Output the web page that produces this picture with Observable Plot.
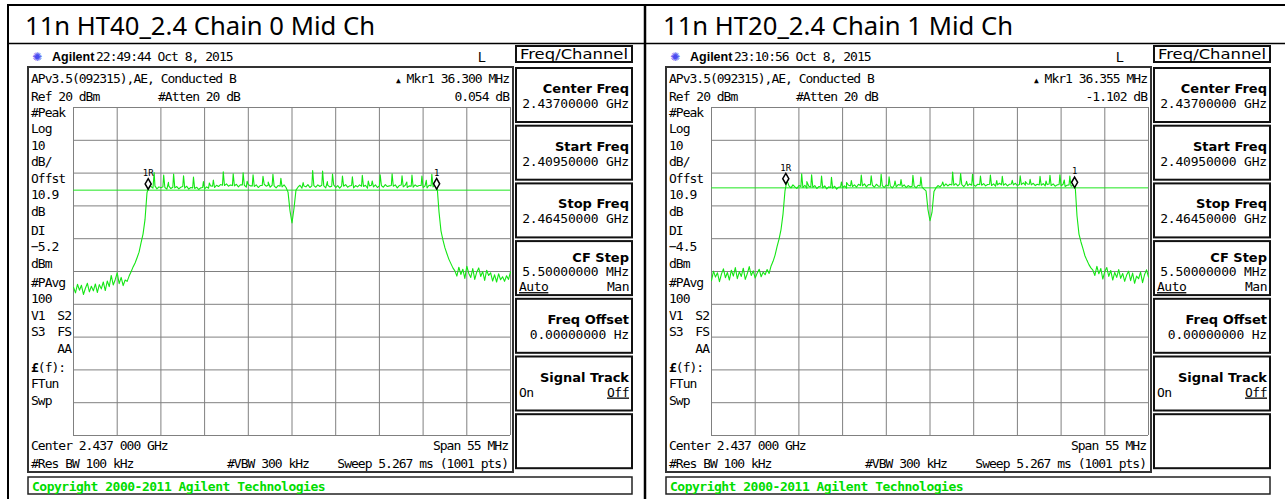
<!DOCTYPE html>
<html><head><meta charset="utf-8">
<script src="https://cdn.jsdelivr.net/npm/d3@7"></script>
<script src="https://cdn.jsdelivr.net/npm/@observablehq/plot@0.6"></script>
<style>
html,body{margin:0;padding:0;background:#fff;}
#root{position:relative;width:1285px;height:499px;overflow:hidden;background:#fff;}
#root svg.chrome{position:absolute;left:0;top:0;}
.plotbox{position:absolute;}
</style></head><body><div id="root"></div>
<script>
// ---------------- data ----------------
const panelTitles = ["11n HT40_2.4 Chain 0 Mid Ch", "11n HT20_2.4 Chain 1 Mid Ch"];
const timestamps = ["22:49:44  Oct 8, 2015", "23:10:56  Oct 8, 2015"];
const infoLine = "APv3.5(092315),AE, Conducted B";
const markerDeltaFreq = ["36.300 MHz", "36.355 MHz"];
const markerDeltaAmp = ["0.054 dB", "-1.102 dB"];
const displayLines = [-5.2, -4.5];
const startFreq = 2409.5, stopFreq = 2464.5; // MHz
const refLevel = 20, dbPerDiv = 10;
const freqDivs = [2409.5, 2415, 2420.5, 2426, 2431.5, 2437, 2442.5, 2448, 2453.5, 2459, 2464.5];
const levelDivs = [20, 10, 0, -10, -20, -30, -40, -50, -60, -70, -80];
const markerLabels = ["1R", "1"];
const markerFreqs = [[2418.9, 2455.2], [2418.85, 2455.2]];
const markerLevels = [[-3.3, -3.25], [-1.7, -2.8]];
const sideLabels = ["#Peak","Log","10","dB/","Offst","10.9","dB","DI","DL","dBm","#PAvg","100","V1","S3","£(f):","FTun","Swp"];
const sideLabelsRight = ["S2","FS","AA"];
const bottomRow1 = ["Center 2.437 000 GHz", "Span 55 MHz"];
const bottomRow2 = ["#Res BW 100 kHz", "#VBW 300 kHz", "Sweep 5.267 ms (1001 pts)"];
const softkeyMenu = "Freq/Channel";
const softkeyLabels = ["Center Freq", "Start Freq", "Stop Freq", "CF Step", "Freq Offset", "Signal Track", ""];
const softkeyValues = ["2.43700000 GHz", "2.40950000 GHz", "2.46450000 GHz", "5.50000000 MHz", "0.00000000  Hz", "", ""];
const copyright = "Copyright 2000-2011 Agilent Technologies";

const traceChain0 = [
 -34.8,-36.5,-33.9,-35.7,-34.2,-37.0,-35.1,-33.6,-36.2,-34.5,
 -35.9,-33.8,-36.4,-34.0,-35.3,-33.2,-35.8,-32.9,-34.6,-31.2,
 -34.1,-32.5,-30.4,-33.7,-31.8,-34.3,-32.6,-33.0,-31.4,-30.1,
 -28.6,-27.4,-25.8,-24.1,-21.3,-18.6,-14.2,-6.0,-3.6,-4.1,
 -4.6,-3.9,-4.8,-4.2,-4.5,-4.2,-4.4,-4.9,-4.0,-4.7,
 -4.3,-4.5,-4.1,-4.8,-4.3,-4.1,-4.6,-4.0,-4.9,-4.4,
 -4.5,-4.7,-4.3,-5.0,-4.5,-4.4,-4.8,-4.2,-4.6,-3.9,
 -4.0,-4.4,-3.7,-4.1,-3.5,-3.7,-3.8,-3.3,-4.0,-3.6,
 -3.8,-3.9,-3.4,-4.2,-3.6,-3.6,-3.7,-4.3,-3.5,-3.9,
 -3.9,-4.1,-3.6,-4.4,-3.8,-3.8,-3.4,-4.0,-3.7,-4.3,
 -3.7,-3.9,-4.5,-3.8,-4.0,-4.2,-3.6,-4.4,-5.8,-11.5,
 -15.2,-10.8,-5.2,-4.3,-3.7,-4.6,-3.9,-4.2,-3.5,-4.4,
 -3.9,-3.8,-4.3,-3.6,-4.1,-3.7,-3.9,-4.5,-3.7,-4.2,
 -4.0,-3.6,-4.4,-3.8,-4.6,-3.9,-4.0,-3.5,-4.3,-3.9,
 -3.8,-4.5,-3.8,-4.2,-3.6,-4.0,-4.1,-3.7,-4.6,-3.9,
 -3.7,-4.2,-3.6,-4.4,-3.9,-3.8,-4.3,-3.5,-4.1,-3.9,
 -3.8,-4.0,-3.6,-4.5,-3.8,-3.6,-4.2,-3.7,-4.4,-3.9,
 -4.0,-4.3,-3.6,-4.1,-3.8,-3.8,-4.4,-3.9,-4.5,-3.7,
 -3.9,-4.2,-3.5,-3.6,-11.8,-17.6,-20.4,-22.8,-24.6,-26.3,
 -27.6,-28.9,-29.8,-31.4,-28.7,-30.9,-29.3,-32.1,-28.4,-30.6,
 -31.8,-29.1,-32.4,-30.2,-28.9,-31.5,-30.0,-32.7,-29.6,-31.2,
 -30.4,-32.9,-31.0,-33.2,-30.7,-32.5,-31.6,-33.0,-31.3,-32.4,
 -30.1
];
// narrow spurs on the plateau: [MHz, dBm]
const spursChain0 = [
 [2419.65,0.2],[2420.85,-0.6],[2421.45,-2.8],[2422.1,-0.3],[2423.35,-0.8],[2424.6,-1.2],
 [2425.85,-2.6],[2426.6,-3.0],[2427.1,-2.1],[2428.35,0.4],[2429.6,-0.2],[2430.85,0.1],
 [2431.35,-2.5],[2432.1,-0.5],[2433.35,-1.0],[2434.0,-2.7],[2434.6,-0.4],[2435.6,-1.6],
 [2438.4,-2.9],[2439.6,0.8],[2440.85,0.6],[2441.45,-2.6],[2442.1,-0.3],[2443.35,-0.9],
 [2444.6,-1.1],[2445.85,-0.7],[2446.6,-2.4],[2447.1,-2.4],[2448.1,-0.5],[2449.6,-0.2],
 [2450.85,-0.8],[2451.45,-2.7],[2452.1,-0.6],[2453.35,-0.9],[2453.9,-2.2],[2454.6,-0.4]
];
const traceChain1 = [
 -32.8,-29.9,-31.7,-30.4,-33.1,-30.8,-29.2,-31.9,-30.3,-32.6,
 -29.6,-31.4,-28.8,-32.2,-30.1,-31.5,-29.0,-32.4,-30.7,-28.5,
 -31.2,-29.8,-32.0,-30.5,-29.3,-31.6,-30.2,-31.0,-29.4,-30.6,
 -28.3,-26.9,-25.0,-22.4,-20.1,-17.2,-12.5,-5.4,-2.2,-3.9,
 -4.5,-3.6,-4.2,-4.7,-3.8,-4.1,-4.4,-3.7,-4.6,-4.0,
 -4.2,-4.3,-3.8,-4.7,-4.1,-4.0,-4.5,-3.9,-4.8,-4.2,
 -4.4,-4.6,-4.0,-4.9,-4.3,-4.2,-4.4,-3.9,-4.6,-3.7,
 -3.9,-4.1,-3.6,-4.3,-3.4,-3.8,-3.9,-3.3,-4.2,-3.5,
 -3.6,-3.7,-4.3,-3.4,-4.0,-4.0,-3.8,-4.4,-3.6,-3.9,
 -3.9,-4.5,-3.7,-4.2,-3.5,-3.7,-4.1,-3.6,-4.4,-3.8,
 -4.2,-4.0,-3.9,-4.5,-3.7,-3.9,-4.3,-4.9,-5.4,-11.2,
 -14.5,-12.0,-5.6,-4.5,-3.8,-4.2,-3.5,-4.0,-3.3,-3.9,
 -3.4,-3.6,-3.7,-3.2,-3.9,-3.3,-3.5,-4.1,-3.4,-3.8,
 -3.3,-3.7,-3.6,-4.0,-3.4,-3.5,-3.7,-3.2,-3.9,-3.5,
 -3.4,-3.8,-3.3,-4.0,-3.6,-3.1,-3.6,-3.7,-3.2,-3.9,
 -3.4,-3.3,-3.6,-3.1,-3.8,-3.5,-3.5,-3.0,-3.7,-3.3,
 -3.4,-3.6,-3.1,-3.8,-3.4,-3.6,-3.7,-3.2,-3.9,-3.5,
 -3.3,-3.8,-3.3,-4.0,-3.6,-3.5,-3.9,-3.4,-4.1,-3.7,
 -3.6,-4.0,-3.8,-3.0,-13.0,-18.6,-21.0,-23.0,-25.2,-26.6,
 -27.9,-28.9,-29.6,-31.2,-28.4,-30.7,-29.1,-32.3,-30.0,-28.8,
 -31.5,-29.7,-32.6,-30.3,-31.8,-29.4,-32.1,-30.6,-33.0,-31.1,
 -29.9,-32.8,-30.5,-33.6,-31.4,-32.2,-30.2,-33.4,-31.0,-29.5,
 -31.7
];
const spursChain1 = [
 [2420.85,-0.2],[2421.5,-2.6],[2422.1,-0.5],[2423.35,-0.9],[2424.6,-1.3],[2425.85,-2.7],
 [2426.5,-2.9],[2427.1,-2.3],[2428.35,-0.6],[2429.6,-0.8],[2430.85,-0.4],[2431.85,-1.1],
 [2432.6,-2.4],[2433.35,-2.0],[2434.85,-0.7],[2435.85,-1.2],[2438.6,-2.7],[2439.85,0.3],
 [2440.85,-0.1],[2441.6,-2.5],[2442.35,-0.4],[2443.35,-0.9],[2444.6,-0.6],[2445.4,-2.3],
 [2446.1,-1.0],[2447.35,-2.2],[2448.35,-0.8],[2449.0,-2.6],[2449.6,-1.9],[2450.85,-1.0],
 [2451.6,-2.4],[2452.1,-0.7],[2453.35,-0.5],[2453.9,-2.1],[2454.6,-0.9]
];
const traces = [traceChain0, traceChain1];
const spurs = [spursChain0, spursChain1];

// ---------------- drawing ----------------
const W = 1285, H = 499;
const MONO = "'DejaVu Sans Mono', 'Liberation Mono', monospace";
const SANS = "'DejaVu Sans', 'Liberation Sans', sans-serif";
const root = d3.select("#root");
const svg = root.append("svg").attr("class", "chrome").attr("width", W).attr("height", H);

function txt(g, x, y, s, o = {}) {
  const t = g.append("text").attr("x", x).attr("y", y).text(s)
    .attr("font-family", o.family || MONO).attr("font-size", o.size || 13)
    .attr("fill", o.fill || "#000");
  if (o.anchor) t.attr("text-anchor", o.anchor);
  if (o.weight) t.attr("font-weight", o.weight);
  if (o.ls != null) t.attr("letter-spacing", o.ls);
  if (o.len) t.attr("textLength", o.len).attr("lengthAdjust", "spacingAndGlyphs");
  if (o.underline) t.attr("text-decoration", "underline");
  return t;
}
function line(g, x1, y1, x2, y2, w, c = "#000") {
  g.append("line").attr("x1", x1).attr("y1", y1).attr("x2", x2).attr("y2", y2)
    .attr("stroke", c).attr("stroke-width", w);
}
function box(g, x, y, w, h, sw, c) {
  g.append("rect").attr("x", x).attr("y", y).attr("width", w).attr("height", h)
    .attr("fill", "none").attr("stroke", c).attr("stroke-width", sw);
}

// table frame
line(svg, 7, 5, W, 5, 2);
line(svg, 8, 4, 8, H, 2);
line(svg, 645, 4, 645, H, 2.5);
line(svg, 8, 43.5, W, 43.5, 1.5);

const F = {family: MONO, size: 13, ls: -1};
const sideY = [112,128.5,145,161.5,178,194.5,211,230,246.5,263,282,298.5,315,331.5,367,383.5,400];
const sideRightY = [315,331.5,348];

function panel(k, dx) {
  const g = svg.append("g").attr("transform", `translate(${dx},0)`);
  txt(g, 25, 35, panelTitles[k], {family: "'Noto Sans','Open Sans',sans-serif", size: 25, len: 350});

  // status row
  txt(g, 37, 61, "✺", {family: SANS, size: 12, fill: "#4a4af0", anchor: "middle"});
  txt(g, 52, 61, "Agilent", {family: "'Liberation Sans',Arial,sans-serif", size: 12.5, weight: "bold"});
  txt(g, 96, 61, timestamps[k], F);
  txt(g, 478, 62, "L", {family: "'Liberation Sans',Arial,sans-serif", size: 14});

  // main screen frame
  box(g, 28, 67, 485, 405, 2, "#333");
  txt(g, 31, 83, infoLine, F);
  const mt = txt(g, 509, 83, "", {...F, anchor: "end"});
  mt.append("tspan").attr("font-size", 8).text("▲");
  mt.append("tspan").text(" Mkr1  " + markerDeltaFreq[k]);
  txt(g, 31, 101, "Ref 20 dBm", F);
  txt(g, 158, 101, "#Atten 20 dB", F);
  txt(g, 509, 101, markerDeltaAmp[k], {...F, anchor: "end"});

  sideLabels.forEach((s, i) => {
    const label = s === "DL" ? String(displayLines[k]).replace("-", "−") : s;
    if (label.startsWith("£")) {
      const t = txt(g, 31, sideY[i] + 4.7, "", F);
      t.append("tspan").attr("font-weight", "bold").text("£");
      t.append("tspan").text(label.slice(1));
    } else {
      txt(g, 31, sideY[i] + 4.7, label, F);
    }
  });
  sideLabelsRight.forEach((s, i) => txt(g, 71, sideRightY[i] + 4.7, s, {...F, anchor: "end"}));

  txt(g, 31, 450, bottomRow1[0], F);
  txt(g, 508, 450, bottomRow1[1], {...F, anchor: "end"});
  txt(g, 31, 468, bottomRow2[0], F);
  txt(g, 227, 468, bottomRow2[1], F);
  txt(g, 508, 468, bottomRow2[2], {...F, anchor: "end"});

  // copyright bar
  box(g, 28, 477, 604, 17, 1.5, "#222");
  txt(g, 32, 491, copyright, {family: MONO, size: 13, weight: "bold", ls: -0.5, fill: "#00dc00"});

  // softkeys
  box(g, 516, 46, 116, 16, 2, "#111");
  txt(g, 574, 59, softkeyMenu, {family: SANS, size: 13.5, anchor: "middle", len: 108});
  softkeyLabels.forEach((lab, j) => {
    const top = 68 + 57.7 * j;
    box(g, 516, top, 116, 54, 2, "#111");
    if (!lab) return;
    const three = lab === "CF Step";
    txt(g, 629, top + (three ? 21 : 25), lab, {family: SANS, size: 13, weight: "bold", anchor: "end"});
    if (softkeyValues[j]) txt(g, 629, top + (three ? 35 : 40), softkeyValues[j], {family: MONO, size: 13, ls: -0.2, anchor: "end"});
    if (three) {
      txt(g, 519, top + 50, "Auto", {family: MONO, size: 13, ls: -0.5, underline: true});
      txt(g, 629, top + 50, "Man", {family: MONO, size: 13, ls: -0.5, anchor: "end"});
    }
    if (lab === "Signal Track") {
      txt(g, 519, top + 40, "On", {family: MONO, size: 13, ls: -0.5});
      txt(g, 629, top + 40, "Off", {family: MONO, size: 13, ls: -0.5, anchor: "end", underline: true});
    }
  });

  // the chart itself
  const vals = traces[k];
  const step = (stopFreq - startFreq) / (vals.length - 1);
  const data = vals.map((v, i) => ({f: startFreq + i * step, v}))
    .concat(spurs[k].map(([f, v]) => ({f, v})))
    .sort((a, b) => a.f - b.f);
  const mk = markerLabels.map((label, i) => ({label, f: markerFreqs[k][i], v: markerLevels[k][i]}));
  const chart = Plot.plot({
    width: 439, height: 330, marginTop: 1, marginRight: 1, marginBottom: 1, marginLeft: 1,
    x: {domain: [startFreq, stopFreq], axis: null},
    y: {domain: [refLevel - 10 * dbPerDiv, refLevel], axis: null},
    style: {background: "transparent", overflow: "visible"},
    marks: [
      Plot.ruleX(freqDivs, {stroke: "#808080", strokeWidth: 1}),
      Plot.ruleY(levelDivs, {stroke: "#808080", strokeWidth: 1}),
      Plot.ruleY([displayLines[k]], {stroke: "#1ee61e", strokeWidth: 1}),
      Plot.line(data, {x: "f", y: "v", stroke: "#14e614", strokeWidth: 1.1}),
      Plot.dot(mk, {x: "f", y: "v", symbol: "diamond", r: 3.2, stroke: "#000", strokeWidth: 1.5, fill: "#fff"}),
      Plot.text(mk, {x: "f", y: "v", text: "label", dy: -11, fontSize: 9, fontFamily: MONO, fill: "#000"})
    ]
  });
  root.append("div").attr("class", "plotbox")
    .style("left", (72 + dx) + "px").style("top", "106px")
    .node().appendChild(chart);
}
panel(0, 0);
panel(1, 638);
</script></body></html>
